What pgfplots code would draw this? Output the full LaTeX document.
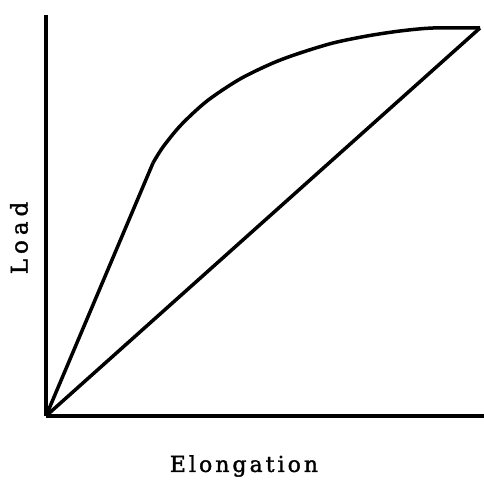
\documentclass[border=0pt]{standalone}
\usepackage{pgfplots}
\pgfplotsset{compat=1.18}
\usepackage{fontspec}
\setmainfont{DejaVu Serif}
\newfontfamily\xlabfont[LetterSpace=14,FakeBold=1.6]{DejaVu Serif}
\newfontfamily\ylabfont[LetterSpace=22,FakeBold=1.6]{DejaVu Serif}
\begin{document}
\begin{tikzpicture}
\begin{axis}[
  x=1bp, y=1bp,
  xmin=0, xmax=438, ymin=0, ymax=401,
  axis lines=left,
  axis line style={line width=4bp, -},
  ticks=none,
  clip=false,
  xlabel={\xlabfont\fontsize{22}{26}\selectfont Elongation},
  ylabel={\ylabfont\fontsize{23}{27}\selectfont Load},
  every axis x label/.style={at={(axis cs:198,-50)}, anchor=center},
  every axis y label/.style={at={(axis cs:-27,178)}, anchor=center, rotate=90},
]
\addplot[black, line width=3.5bp] coordinates {(0,0) (107,253)};
\addplot[black, line width=3.5bp, smooth, tension=0.5] coordinates {
(107,253) (117,269) (135,291) (161,315) (194,337) (227,353) (254,363) (287,373) (321,380) (354,385) (387,388) (434,388)};
\addplot[black, line width=3.5bp] coordinates {(0,0) (434,388)};
\end{axis}
\pgfresetboundingbox
\path[use as bounding box] (-46bp,-68bp) rectangle (438bp,416bp);
\end{tikzpicture}
\end{document}
